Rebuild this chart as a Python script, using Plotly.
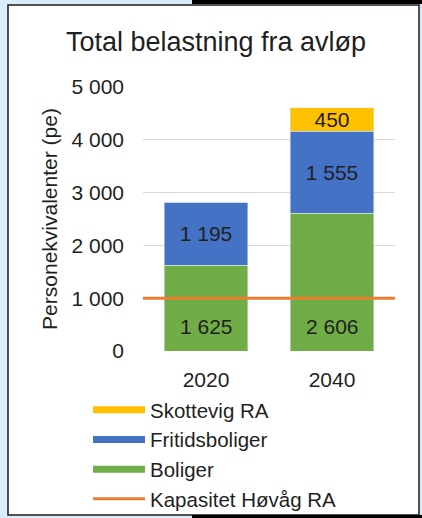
import plotly.graph_objects as go

# ---- data ----
years = ["2020", "2040"]
boliger = [1625, 2606]
fritidsboliger = [1195, 1555]
skottevig = [0, 450]
kapasitet = 1000
y_ticks = [0, 1000, 2000, 3000, 4000, 5000]

# ---- style / layout constants ----
W, H = 422, 518
ML, MR, MT, MB = 143, 27, 87, 167
FONT = "Arial, 'Liberation Sans', sans-serif"
TXT = "#1f1f1f"
C_YEL, C_BLU, C_GRN, C_ORG = "#FFC000", "#4472C4", "#70AD47", "#ED7D31"

PW = W - ML - MR
PH = H - MT - MB


def px_x(x):
    return (x - ML) / PW


def px_y(y):
    return (H - MB - y) / PH


def fmt(v):
    return f"{v:,}".replace(",", " ")


fig = go.Figure()
fig.add_bar(x=years, y=boliger, marker_color=C_GRN, name="Boliger",
            showlegend=False, hoverinfo="skip")
fig.add_bar(x=years, y=fritidsboliger, marker_color=C_BLU, name="Fritidsboliger",
            text=[fmt(v) for v in fritidsboliger], textposition="inside",
            insidetextanchor="middle", showlegend=False, constraintext="none",
            textfont=dict(family=FONT, size=21, color=TXT))
fig.add_bar(x=years, y=skottevig, marker_color=C_YEL, name="Skottevig RA",
            text=[fmt(v) if v else "" for v in skottevig], textposition="inside",
            insidetextanchor="middle", showlegend=False, constraintext="none",
            textfont=dict(family=FONT, size=21, color=TXT))

# green labels near the base of the bars (x given as category index)
for i, v in enumerate(boliger):
    fig.add_annotation(x=i, y=0, text=fmt(v), showarrow=False, yanchor="bottom",
                       yshift=11, font=dict(family=FONT, size=21, color=TXT))

# capacity line
fig.add_hline(y=kapasitet, line=dict(color=C_ORG, width=3), layer="above")

# legend-only entries
for nm, col in [("Skottevig RA", C_YEL), ("Fritidsboliger", C_BLU),
                ("Boliger", C_GRN)]:
    fig.add_scatter(x=[years[0]], y=[None], mode="lines", name=nm,
                    line=dict(color=col, width=7), hoverinfo="skip")
fig.add_scatter(x=[years[0]], y=[None], mode="lines", name="Kapasitet Høvåg RA",
                line=dict(color=C_ORG, width=3), hoverinfo="skip")

# frame decoration
fig.add_shape(type="rect", xref="paper", yref="paper", layer="below",
              x0=px_x(8), x1=px_x(419), y0=px_y(515), y1=px_y(5),
              fillcolor="white", line=dict(color="#1a1a1a", width=1.5))
for y0, y1 in [(0, 4), (515, 518)]:
    fig.add_shape(type="rect", xref="paper", yref="paper", layer="below",
                  x0=px_x(192), x1=px_x(W), y0=px_y(y1), y1=px_y(y0),
                  fillcolor="black", line=dict(width=0))

fig.update_layout(
    width=W, height=H,
    margin=dict(l=ML, r=MR, t=MT, b=MB, autoexpand=False),
    barmode="stack", bargap=0.34,
    paper_bgcolor="#d9ecfa", plot_bgcolor="white",
    separators=", ",
    font=dict(family=FONT, size=21, color=TXT),
    title=dict(text="Total belastning fra avløp", x=216 / W, xref="container",
               xanchor="center", y=1 - 42 / H, yanchor="middle",
               font=dict(family=FONT, size=27, color=TXT)),
    showlegend=True,
    legend=dict(x=px_x(88), xanchor="left", y=px_y(390), yanchor="top",
                traceorder="normal", itemwidth=52, bgcolor="rgba(0,0,0,0)",
                font=dict(family=FONT, size=20.5, color=TXT)),
    xaxis=dict(type="category", categoryarray=years, categoryorder="array",
               range=[-0.5, 1.5], automargin=False,
               showgrid=False, zeroline=False, showline=False,
               ticks="", ticklabelstandoff=14,
               tickfont=dict(family=FONT, size=21, color=TXT)),
    yaxis=dict(range=[0, 5000], tickvals=y_ticks, automargin=False,
               ticktext=[fmt(v) for v in y_ticks],
               showgrid=True, gridcolor="#d9d9d9", gridwidth=1,
               zeroline=False, showline=False, ticks="", ticklabelstandoff=18,
               tickfont=dict(family=FONT, size=21, color=TXT),
               title=dict(text="Personekvivalenter (pe)", standoff=8,
                          font=dict(family=FONT, size=21, color=TXT))),
)

fig.write_html(
    "out.html",
    config={"displayModeBar": False},
    post_script="document.body.style.margin='0';document.body.style.padding='0';",
)
